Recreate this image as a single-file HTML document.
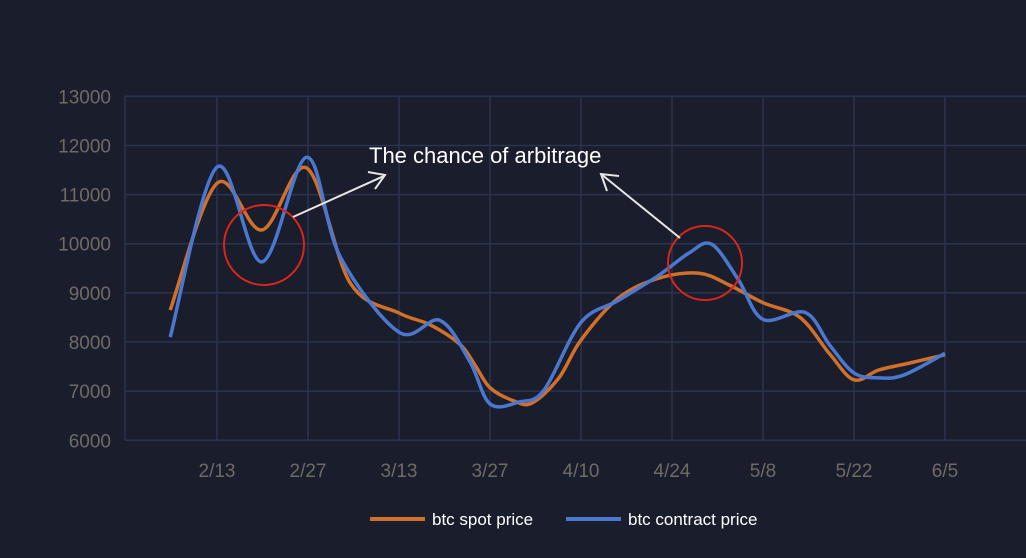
<!DOCTYPE html>
<html><head><meta charset="utf-8"><style>
html,body{margin:0;padding:0;background:#1a1d2b;}
svg{display:block;font-family:"Liberation Sans",sans-serif;}
</style></head><body>
<svg id="chart" width="1026" height="558" viewBox="0 0 1026 558">
<rect width="1026" height="558" fill="#1a1d2b"/>
<g id="grid"></g>
<g id="yticks"></g>
<g id="xticks"></g>
<g id="series"></g>
<g>
  <circle cx="264" cy="245" r="40" fill="none" stroke="#d9261c" stroke-width="2"/>
  <circle cx="705" cy="263" r="37" fill="none" stroke="#d9261c" stroke-width="2"/>
  <line x1="293" y1="217" x2="384" y2="176" stroke="#e6e6e6" stroke-width="2"/>
  <polyline points="368,172 385,175 375,189" fill="none" stroke="#e6e6e6" stroke-width="2"/>
  <line x1="680" y1="238" x2="601" y2="174" stroke="#e6e6e6" stroke-width="2"/>
  <polyline points="619,176 601,174 607,191" fill="none" stroke="#e6e6e6" stroke-width="2"/>
  <text x="369" y="163" fill="#ffffff" font-size="22">The chance of arbitrage</text>
</g>
<g>
  <line x1="370" y1="519" x2="425" y2="519" stroke="#d0702a" stroke-width="4"/>
  <text x="432" y="525" fill="#ffffff" font-size="17">btc spot price</text>
  <line x1="566" y1="519" x2="621" y2="519" stroke="#4a78d0" stroke-width="4"/>
  <text x="628" y="525" fill="#ffffff" font-size="17">btc contract price</text>
</g>
</svg>
<script>
const yTicks=[6000,7000,8000,9000,10000,11000,12000,13000];
const xTickLabels=["2/13","2/27","3/13","3/27","4/10","4/24","5/8","5/22","6/5"];
const xTickDays=[0,14,28,42,56,70,84,98,112];
const spotDays=[-7.2,0,6.9,13.8,20.5,28,32.8,37.4,39.7,42,45.7,48.5,52.6,56,61.8,68,74.2,78.8,84,89.7,94.3,98,101.8,106.5,112];
const spotVals=[8650,11230,10280,11540,9200,8590,8350,7950,7530,7070,6800,6760,7270,8040,8900,9300,9400,9160,8800,8500,7750,7230,7430,7570,7740];
const contractDays=[-7.2,0,6.9,13.8,18.9,28,34.3,38.9,42,46.5,50.3,56,61.8,68,72.6,76.1,80.2,84,90.5,94.3,98,101.8,105.7,112];
const contractVals=[8100,11560,9630,11760,9750,8200,8440,7600,6740,6780,7020,8400,8850,9360,9810,9990,9270,8460,8600,7930,7370,7270,7330,7770];

const NS="http://www.w3.org/2000/svg";
const X0=217,PXD=6.5,Y13=96.3,PY=49.14/1000;
const xs=d=>X0+d*PXD;
const ys=v=>Y13+(13000-v)*PY;
function mk(t,a,p){const e=document.createElementNS(NS,t);for(const k in a)e.setAttribute(k,a[k]);p.appendChild(e);return e;}
const grid=document.getElementById('grid'),yt=document.getElementById('yticks'),xt=document.getElementById('xticks'),ser=document.getElementById('series');
yTicks.forEach(v=>{
  const l=mk('line',{x1:125,x2:1026,y1:ys(v),y2:ys(v),stroke:'#2a3350','stroke-width':1.5},grid);
  
  
  const t=mk('text',{x:111,y:ys(v)+7,'text-anchor':'end',fill:'#6e6a66','font-size':19},yt);
  t.textContent=String(v);
  
  
});
const vl=mk('line',{x1:125,x2:125,y1:ys(13000),y2:ys(6000),stroke:'#2a3350','stroke-width':1.5},grid);


xTickDays.forEach((d,i)=>{
  const l=mk('line',{x1:xs(d),x2:xs(d),y1:ys(13000),y2:ys(6000),stroke:'#2a3350','stroke-width':1.5},grid);
  
  
  const t=mk('text',{x:xs(d),y:477,'text-anchor':'middle',fill:'#6e6a66','font-size':19},xt);
  t.textContent=xTickLabels[i];
  
  
});
function path(days,vals){
  const p=days.map((d,i)=>[xs(d),ys(vals[i])]);
  let s='M'+p[0][0]+','+p[0][1];
  for(let i=0;i<p.length-1;i++){
    const a=p[i-1]||p[i],b=p[i],c=p[i+1],e=p[i+2]||c;
    s+=' C'+(b[0]+(c[0]-a[0])/6)+','+(b[1]+(c[1]-a[1])/6)+' '+(c[0]-(e[0]-b[0])/6)+','+(c[1]-(e[1]-b[1])/6)+' '+c[0]+','+c[1];
  }
  return s;
}
const sp=mk('path',{d:path(spotDays,spotVals),fill:'none',stroke:'#d0702a','stroke-width':3.5,'stroke-linejoin':'round'},ser);


const cp=mk('path',{d:path(contractDays,contractVals),fill:'none',stroke:'#4a78d0','stroke-width':3.5,'stroke-linejoin':'round'},ser);


</script>
</body></html>
